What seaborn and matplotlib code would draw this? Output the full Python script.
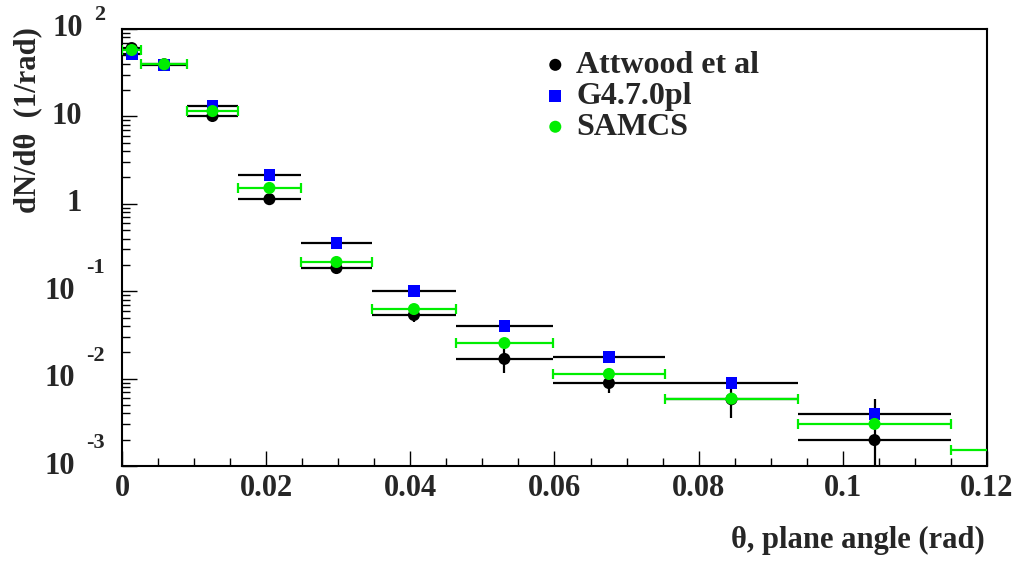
import matplotlib
matplotlib.use("Agg")
import matplotlib.pyplot as plt
import matplotlib.transforms as mtransforms
from matplotlib.ticker import FixedLocator, MultipleLocator, LogLocator, NullFormatter
import numpy as np
import pandas as pd
import seaborn as sns

# ---------------- data ----------------
bin_edges = [0.0, 0.0027, 0.0090, 0.0161, 0.0248, 0.0347, 0.0463, 0.0598,
             0.0753, 0.0938, 0.1150, 0.1400]
attwood = [60.5, 39.5, 10.1, 1.13, 0.184, 0.0534, 0.0168, 0.0089, 0.0058, 0.00198]
attwood_err = [1.5, 1.0, 0.3, 0.03, 0.008, 0.0095, 0.0052, 0.0020, 0.0023, 0.0039]
g4 = [51.8, 38.5, 13.2, 2.14, 0.356, 0.1005, 0.0400, 0.0177, 0.0089, 0.00394]
samcs = [57.5, 39.5, 11.5, 1.52, 0.216, 0.0625, 0.0255, 0.0113, 0.0059, 0.00303, 0.00152]
series_names = ["Attwood et al", "G4.7.0pl", "SAMCS"]

x_ticks = [0, 0.02, 0.04, 0.06, 0.08, 0.1, 0.12]
x_tick_labels = ["0", "0.02", "0.04", "0.06", "0.08", "0.1", "0.12"]
y_decades = [100, 10, 1, 0.1, 0.01, 0.001]
y_base = ["10", "10", "1", "10", "10", "10"]
y_exp = ["2", "", "", "-1", "-2", "-3"]
x_label = "θ, plane angle (rad)"
y_label = "dN/dθ  (1/rad)"

# ---------------- frames ----------------
edges = np.array(bin_edges)
centers = (edges[:-1] + edges[1:]) / 2
half = (edges[1:] - edges[:-1]) / 2

def frame(vals, err=None):
    n = len(vals)
    d = pd.DataFrame({"theta": centers[:n], "dndt": vals, "xerr": half[:n]})
    d["yerr"] = err if err is not None else 0.0
    return d

df_att = frame(attwood, attwood_err)
df_g4 = frame(g4)
df_sam = frame(samcs)

# ---------------- style ----------------
sns.set_style("white")
plt.rcParams["font.family"] = ["Liberation Serif", "DejaVu Serif"]
plt.rcParams["font.weight"] = "bold"
plt.rcParams["axes.labelweight"] = "bold"

BLUE = "#0000ff"
GREEN = "#00ee00"

fig = plt.figure(figsize=(10.2, 5.61), dpi=100)
ax = fig.add_axes([122 / 1020, 1 - 466 / 561, 865 / 1020, 437 / 561])
ax.set_yscale("log")

lw = 1.6
# Attwood et al
ax.errorbar(df_att["theta"], df_att["dndt"], xerr=df_att["xerr"], yerr=df_att["yerr"],
            fmt="none", ecolor="black", elinewidth=lw, capsize=0, zorder=2)
sns.scatterplot(data=df_att, x="theta", y="dndt", ax=ax, color="black", marker="o",
                s=75, edgecolor="none", zorder=3, label=series_names[0], legend=False)
# G4
ax.errorbar(df_g4["theta"], df_g4["dndt"], xerr=df_g4["xerr"],
            fmt="none", ecolor="black", elinewidth=lw, capsize=0, zorder=4)
sns.scatterplot(data=df_g4, x="theta", y="dndt", ax=ax, color=BLUE, marker="s",
                s=70, edgecolor="none", zorder=5, label=series_names[1], legend=False)
# SAMCS
ax.errorbar(df_sam["theta"], df_sam["dndt"], xerr=df_sam["xerr"],
            fmt="none", ecolor=GREEN, elinewidth=lw, capsize=3.6, capthick=lw, zorder=6)
sns.scatterplot(data=df_sam, x="theta", y="dndt", ax=ax, color=GREEN, marker="o",
                s=75, edgecolor="none", zorder=7, label=series_names[2], legend=False)

ax.set_xlim(0, 0.12)
ax.set_ylim(1e-3, 1e2)

# ---------------- axes ----------------
for sp in ax.spines.values():
    sp.set_visible(True)
    sp.set_color("black")
    sp.set_linewidth(1.5)

ax.set_xticks(x_ticks)
ax.set_xticklabels(x_tick_labels, fontsize=22, fontweight="bold")
ax.xaxis.set_minor_locator(MultipleLocator(0.005))
ax.yaxis.set_major_locator(FixedLocator(y_decades))
ax.yaxis.set_minor_locator(LogLocator(base=10, subs=np.arange(2, 10)))
ax.yaxis.set_major_formatter(NullFormatter())
ax.yaxis.set_minor_formatter(NullFormatter())
ax.tick_params(which="both", direction="in", top=False, right=False,
               left=True, bottom=True, color="black")
ax.tick_params(which="major", length=10.8, width=1.0)
ax.tick_params(which="minor", length=5.8, width=1.0)
ax.tick_params(axis="x", pad=6)

ax.set_xlabel(x_label, fontsize=22, fontweight="bold", ha="right", va="center")
ax.xaxis.set_label_coords(1 - 2 / 865, -(540 - 466) / 437)
ax.set_ylabel(y_label, fontsize=22, fontweight="bold", va="center", ha="center")
ax.yaxis.set_label_coords(-(122 - 28) / 865, 1 - (120 - 29) / 437)

# ROOT-style y tick labels
fig.canvas.draw()
renderer = fig.canvas.get_renderer()
ytr = ax.get_yaxis_transform()
for val, base, ex in zip(y_decades, y_base, y_exp):
    if ex:
        raise_px = 23 if ex.startswith("-") else 14
        t = ax.text(0, val, ex, fontsize=16, fontweight="bold", ha="right", va="center",
                    transform=mtransforms.offset_copy(ytr, fig=fig, x=-17, y=raise_px, units="dots"))
        w = t.get_window_extent(renderer).width
        ax.text(0, val, base, fontsize=22, fontweight="bold", ha="right", va="center",
                transform=mtransforms.offset_copy(ytr, fig=fig, x=-17 - w - 11, y=0, units="dots"))
    else:
        ax.text(0, val, base, fontsize=22, fontweight="bold", ha="right", va="center",
                transform=mtransforms.offset_copy(ytr, fig=fig, x=-40, y=0, units="dots"))

ax.legend(loc="upper left", bbox_to_anchor=(0.488, 0.95), frameon=False,
          prop={"family": "Liberation Serif", "weight": "bold", "size": 23},
          handlelength=0.7, handletextpad=0.3, labelspacing=0.05,
          borderpad=0, borderaxespad=0, scatterpoints=1)

fig.savefig("out.png", dpi=100, facecolor="white")
